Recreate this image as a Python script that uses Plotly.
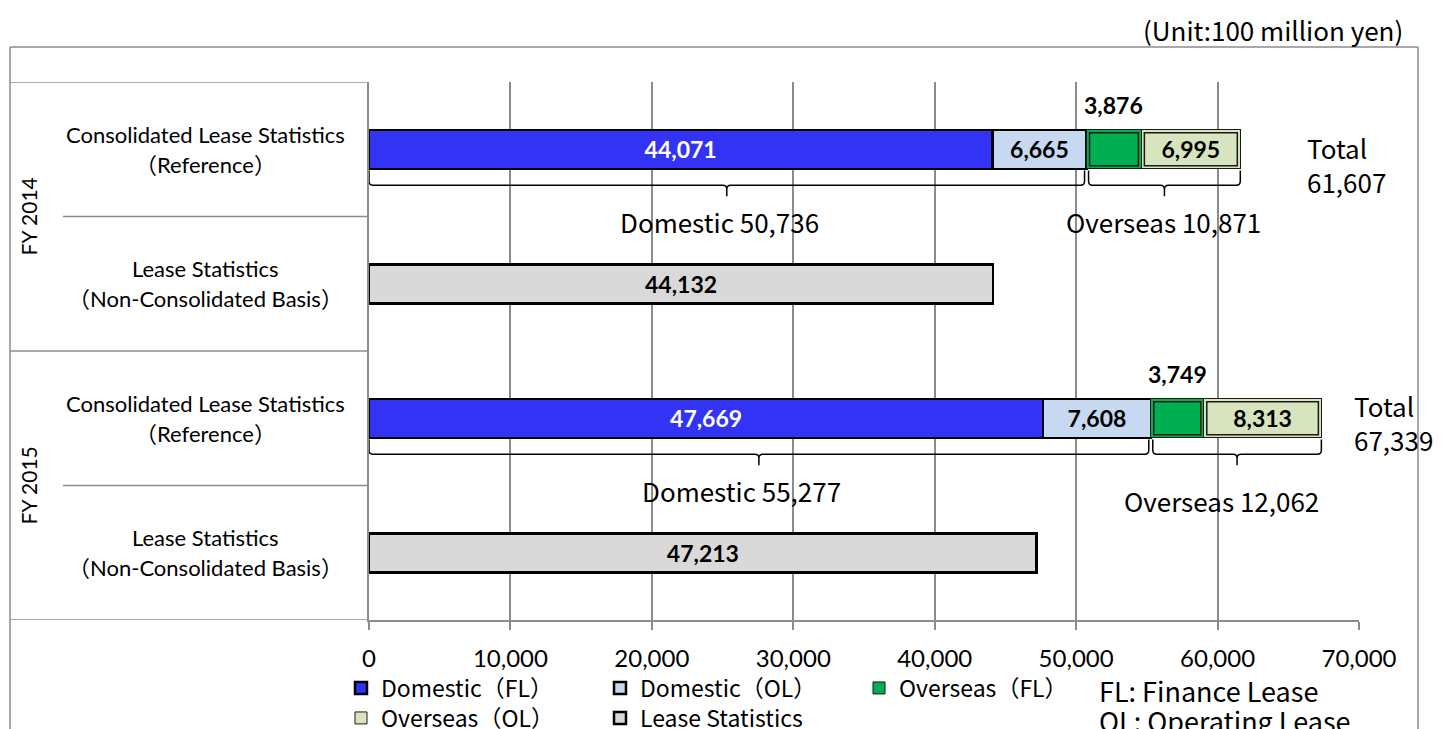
import plotly.graph_objects as go

# ---------------- data ----------------
years = ["FY 2014", "FY 2015"]
row_line1 = ["Consolidated Lease Statistics", "Lease Statistics",
             "Consolidated Lease Statistics", "Lease Statistics"]
row_line2 = ["（Reference）", "（Non-Consolidated Basis）",
             "（Reference）", "（Non-Consolidated Basis）"]
dom_fl = [44071, 47669]
dom_ol = [6665, 7608]
ovs_fl = [3876, 3749]
ovs_ol = [6995, 8313]
lease_stats = [44132, 47213]
x_ticks = [0, 10000, 20000, 30000, 40000, 50000, 60000, 70000]
series_names = ["Domestic（FL）", "Domestic（OL）", "Overseas（FL）",
                "Overseas（OL）", "Lease Statistics"]
unit_text = "(Unit:100 million yen)"
notes = ["FL: Finance Lease", "OL: Operating Lease"]

# ---------------- layout constants ----------------
OFF = 8  # page body margin
W, H = 1443 - OFF, 729 - OFF
L, R, T, B = 369 - OFF, 84, 82 - OFF, 109
PW, PH = W - L - R, H - T - B
def xp(px):
    return (px - OFF - L) / PW
def yp(py):
    return (T + PH - (py - OFF)) / PH

cons_rows = [0, 2]
lease_rows = [1, 3]
BW = 0.29
GRID = "#8c8c8c"
LAB_FONT = "Lato, 'Noto Sans CJK JP', sans-serif"
JP_FONT = "'Noto Sans CJK JP', sans-serif"

colors = ["#3333f6", "#c6d9f1", "#00b050", "#d7e4bd", "#d9d9d9"]

fig = go.Figure()

def fmt(v):
    return f"{v:,}"

traces = [
    (dom_fl, cons_rows, 0, "white", [fmt(v) for v in dom_fl], "legend", 2.5, "#000000"),
    (dom_ol, cons_rows, 1, "black", [fmt(v) for v in dom_ol], "legend", 2.5, "#000000"),
    (ovs_fl, cons_rows, 2, "black", ["" for v in ovs_fl], "legend", 1, "#1a1a1a"),
    (ovs_ol, cons_rows, 3, "black", [fmt(v) for v in ovs_ol], "legend2", 1, "#1a1a1a"),
    (lease_stats, lease_rows, 4, "black", [fmt(v) for v in lease_stats], "legend2", 2.5, "#000000"),
]
for vals, rows, ci, tc, txt, lg, lw, lc in traces:
    fig.add_trace(go.Bar(
        x=vals, y=rows, orientation="h", width=BW,
        name=series_names[ci], legend=lg,
        marker=dict(color=colors[ci], line=dict(color=lc, width=lw)),
        text=txt, textposition="inside", insidetextanchor="middle",
        textangle=0, constraintext="none",
        textfont=dict(family=LAB_FONT, size=23, color=tc, weight="bold"),
        hoverinfo="skip", cliponaxis=False,
    ))

shapes = []
annotations = []

# inner line of the double border on overseas segments
inset_x = 3 / PW * 70000
inset_y = 3 / (PH / 4)
for i, r in enumerate(cons_rows):
    base = dom_fl[i] + dom_ol[i]
    for val in (ovs_fl[i], ovs_ol[i]):
        shapes.append(dict(type="rect", xref="x", yref="y",
                           x0=base + inset_x, x1=base + val - inset_x,
                           y0=r - BW / 2 + inset_y, y1=r + BW / 2 - inset_y,
                           line=dict(color="#1a1a1a", width=1.5)))
        base += val

# brackets under consolidated bars
def bracket(a, b, r):
    top, mid, tip = r + 0.158, r + 0.268, r + 0.35
    cy = 0.03
    dx = 4 / PW * 70000
    m = (a + b) / 2
    return (f"M {a},{top} L {a},{mid - cy} Q {a},{mid} {a + dx},{mid} "
            f"L {m - dx},{mid} Q {m},{mid} {m},{mid + cy} L {m},{tip} "
            f"M {m},{mid + cy} Q {m},{mid} {m + dx},{mid} "
            f"L {b - dx},{mid} Q {b},{mid} {b},{mid - cy} L {b},{top}")

label_dx = [(-8, 0), (-18, -15)]
label_dy = [(72, 72), (72, 82)]
total_dx = [65, 31]
total_dy = [15, 4]
for i, r in enumerate(cons_rows):
    dom = dom_fl[i] + dom_ol[i]
    ovs = ovs_fl[i] + ovs_ol[i]
    tot = dom + ovs
    gap = 2 / PW * 70000
    shapes.append(dict(type="path", xref="x", yref="y", path=bracket(0, dom - gap, r),
                       line=dict(color="black", width=1.5)))
    shapes.append(dict(type="path", xref="x", yref="y", path=bracket(dom + gap, tot, r),
                       line=dict(color="black", width=1.5)))
    annotations.append(dict(x=dom / 2, y=r, xref="x", yref="y", text=f"Domestic {fmt(dom)}",
                            showarrow=False, xanchor="center", yanchor="middle",
                            xshift=label_dx[i][0], yshift=-label_dy[i][0],
                            font=dict(family=JP_FONT, size=26, color="black")))
    annotations.append(dict(x=dom + ovs / 2, y=r, xref="x", yref="y", text=f"Overseas {fmt(ovs)}",
                            showarrow=False, xanchor="center", yanchor="middle",
                            xshift=label_dx[i][1], yshift=-label_dy[i][1],
                            font=dict(family=JP_FONT, size=26, color="black")))
    annotations.append(dict(x=tot, y=r, xref="x", yref="y", text=f"Total<br>{fmt(tot)}",
                            showarrow=False, xanchor="left", yanchor="middle", align="left",
                            xshift=total_dx[i], yshift=-total_dy[i],
                            font=dict(family=JP_FONT, size=26, color="black")))
    # overseas FL value above its segment
    annotations.append(dict(x=dom + ovs_fl[i] / 2, y=r, xref="x", yref="y", text=fmt(ovs_fl[i]),
                            showarrow=False, xanchor="center", yanchor="middle", yshift=44,
                            font=dict(family=LAB_FONT, size=23, color="black", weight="bold")))

# left category table
for r in range(4):
    annotations.append(dict(x=xp(205), y=r, xref="paper", yref="y", text=row_line1[r],
                            showarrow=False, xanchor="center", yanchor="middle", yshift=15,
                            font=dict(family=LAB_FONT, size=22, color="black")))
    annotations.append(dict(x=xp(205), y=r, xref="paper", yref="y", text=row_line2[r],
                            showarrow=False, xanchor="center", yanchor="middle", yshift=-15,
                            font=dict(family=LAB_FONT, size=22, color="black")))
for g, yr in enumerate(years):
    annotations.append(dict(x=xp(28), y=2 * g + 0.5, xref="paper", yref="y", text=yr,
                            showarrow=False, textangle=-90, xanchor="center", yanchor="middle",
                            font=dict(family=LAB_FONT, size=21, color="black")))

for yv, xs in [(-0.5, 10), (0.5, 63), (1.5, 10), (2.5, 63), (3.5, 10)]:
    shapes.append(dict(type="line", xref="paper", yref="y", x0=xp(xs), x1=0, y0=yv, y1=yv,
                       line=dict(color=GRID, width=1.5)))
# outer frame
shapes.append(dict(type="line", xref="paper", yref="paper", x0=xp(10), x1=xp(1418),
                   y0=yp(47), y1=yp(47), line=dict(color=GRID, width=1.5)))
for xx in (10, 1418):
    shapes.append(dict(type="line", xref="paper", yref="paper", x0=xp(xx), x1=xp(xx),
                       y0=yp(47), y1=yp(760), line=dict(color=GRID, width=1.5)))

annotations.append(dict(x=xp(1405), y=yp(30), xref="paper", yref="paper", text=unit_text,
                        showarrow=False, xanchor="right", yanchor="middle",
                        font=dict(family=JP_FONT, size=26, color="black")))
for k, nt in enumerate(notes):
    annotations.append(dict(x=xp(1097), y=yp(690 + 30 * k), xref="paper", yref="paper", text=nt,
                            showarrow=False, xanchor="left", yanchor="middle",
                            font=dict(family=JP_FONT, size=27, color="black")))

legend_common = dict(orientation="h", xanchor="left", yanchor="middle",
                     xref="container", yref="container", traceorder="normal",
                     bgcolor="rgba(0,0,0,0)", borderwidth=0, itemwidth=30,
                     entrywidth=214, entrywidthmode="pixels",
                     font=dict(family=JP_FONT, size=23, color="black"),
                     tracegroupgap=0, itemclick=False, itemdoubleclick=False)

fig.update_layout(
    width=W, height=H,
    margin=dict(l=L, r=R, t=T, b=B, pad=0),
    paper_bgcolor="white", plot_bgcolor="white",
    barmode="stack", showlegend=True,
    xaxis=dict(range=[0, 70000], tickvals=x_ticks, ticktext=[fmt(v) for v in x_ticks],
               showgrid=True, gridcolor=GRID, gridwidth=1.5, zeroline=False,
               showline=True, linecolor=GRID, linewidth=1.5,
               ticks="outside", ticklen=8, tickcolor=GRID, tickwidth=1.5,
               ticklabelstandoff=8, automargin=False,
               tickfont=dict(family=LAB_FONT, size=24, color="black"), fixedrange=True),
    yaxis=dict(range=[3.5, -0.5], showticklabels=False, showgrid=False, zeroline=False,
               showline=True, linecolor=GRID, linewidth=1.5, fixedrange=True, automargin=False),
    legend=dict(x=(341 - OFF) / W, y=1 - (688 - OFF) / H, **legend_common),
    legend2=dict(x=(341 - OFF) / W, y=1 - (718 - OFF) / H, **legend_common),
    shapes=shapes, annotations=annotations,
)

fig.write_html("out.html")
